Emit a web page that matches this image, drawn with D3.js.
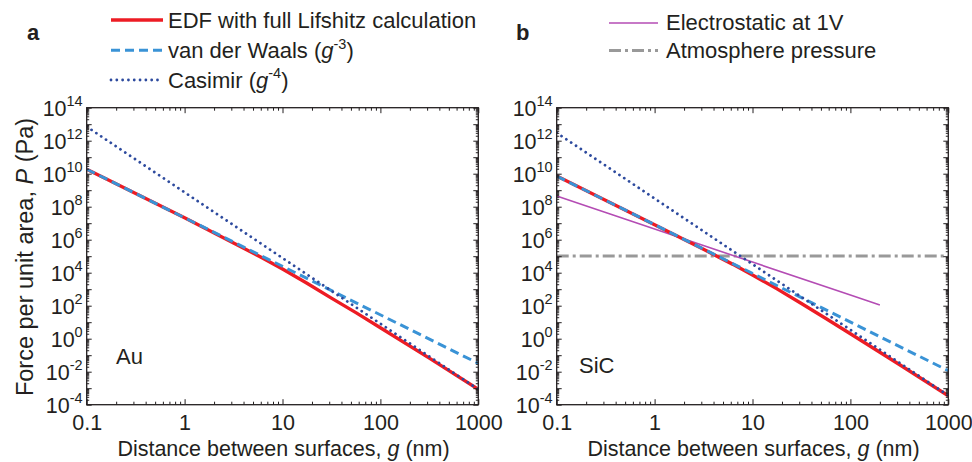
<!DOCTYPE html>
<html>
<head>
<meta charset="utf-8">
<script src="https://cdn.jsdelivr.net/npm/d3@7"></script>
<style>
  html, body { margin: 0; padding: 0; background: #fff; }
  svg { display: block; }
  text { font-family: "Liberation Sans", Arial, Helvetica, sans-serif; fill: #231f20; }
</style>
</head>
<body>
<svg id="chart" width="972" height="462"></svg>
<script>
// ---------------- DATA ----------------
// distances g (nm)
const gFull = [0.1, 1, 3.16, 6.31, 10, 17.8, 31.6, 56.2, 100, 316, 1000];
const gEnds = [0.1, 1000];

// Panel a: Au
const pEdfAu = [1.86e10, 2.14e7, 6.3e5, 7.6e4, 1.66e4, 2.3e3, 288, 38, 4.6, 6.6e-2, 8.5e-4];
const pVdwAu = [1.86e10, 3.2e-2];
const pCasAu = [7.1e12, 8.5e-4];

// Panel b: SiC
const pEdfSiC = [7.2e9, 8.1e6, 2.6e5, 3.2e4, 7.2e3, 1.05e3, 135, 16.6, 2.0, 2.75e-2, 3.5e-4];
const pVdwSiC = [7.2e9, 1.15e-2];
const pCasSiC = [3.0e12, 3.6e-4];
const gElec = [0.1, 1, 10, 100, 200];
const pElec = [4.4e8, 4.4e6, 4.4e4, 440, 110];
const pAtm = [1.013e5, 1.013e5];

// axes
const xDomain = [0.1, 1000];
const yDomain = [1e-4, 1e14];
const xTickLabels = ["0.1", "1", "10", "100", "1000"];
const yTickExponents = [14, 12, 10, 8, 6, 4, 2, 0, -2, -4];

// legend
const legendA = ["EDF with full Lifshitz calculation", "van der Waals", "Casimir"];
const legendB = ["Electrostatic at 1V", "Atmosphere pressure"];

// ---------------- STYLES ----------------
const sty = {
  edf:  {stroke: "#ed1c24", width: 3.4, dash: null, cap: "butt"},
  vdw:  {stroke: "#3a93d6", width: 3.0, dash: "9,5", cap: "butt"},
  cas:  {stroke: "#2d4a9e", width: 2.8, dash: "0.01,5.8", cap: "round"},
  elec: {stroke: "#b44cb4", width: 1.6, dash: null, cap: "butt"},
  atm:  {stroke: "#999999", width: 3.0, dash: "12,4,3,4", cap: "butt"}
};

const svg = d3.select("#chart");
const ink = "#231f20";
const FS = 21.5;     // tick labels / axis titles
const FS_LEG = 22;   // legend
const FS_SUP = 14.5;

const panels = [
  {key: "a", left: 86.7, right: 478.3, label: "a", labelX: 27, mat: "Au", matX: 116, matY: 364,
   series: [
     {g: gFull, p: pEdfAu, s: sty.edf},
     {g: gEnds, p: pVdwAu, s: sty.vdw},
     {g: gEnds, p: pCasAu, s: sty.cas}
   ]},
  {key: "b", left: 556.7, right: 948.3, label: "b", labelX: 516, mat: "SiC", matX: 579, matY: 372.7,
   series: [
     {g: gEnds, p: pAtm, s: sty.atm},
     {g: gElec, p: pElec, s: sty.elec},
     {g: gFull, p: pEdfSiC, s: sty.edf},
     {g: gEnds, p: pVdwSiC, s: sty.vdw},
     {g: gEnds, p: pCasSiC, s: sty.cas}
   ]}
];
const plotTop = 107.7, plotBottom = 404.7;

function minorTicks(lo, hi) {
  const out = [];
  for (let e = Math.round(Math.log10(lo)); e < Math.round(Math.log10(hi)); e++) {
    for (let k = 2; k <= 9; k++) out.push(k * Math.pow(10, e));
  }
  return out;
}
function decades(lo, hi) {
  const out = [];
  for (let e = Math.round(Math.log10(lo)); e <= Math.round(Math.log10(hi)); e++) out.push(Math.pow(10, e));
  return out;
}

panels.forEach((P) => {
  const x = d3.scaleLog().domain(xDomain).range([P.left, P.right]);
  const y = d3.scaleLog().domain(yDomain).range([plotBottom, plotTop]);
  const W = P.right - P.left, H = plotBottom - plotTop;
  const g = svg.append("g");

  svg.append("clipPath").attr("id", "clip" + P.key)
    .append("rect").attr("x", P.left).attr("y", plotTop).attr("width", W).attr("height", H);

  const line = d3.line().x((d) => x(d[0])).y((d) => y(d[1]));
  const lg = g.append("g").attr("clip-path", `url(#clip${P.key})`);
  P.series.forEach(sr => {
    const pts = sr.g.map((v, i) => [v, sr.p[i]]);
    lg.append("path").attr("d", line(pts))
      .attr("fill", "none").attr("stroke", sr.s.stroke).attr("stroke-width", sr.s.width)
      .attr("stroke-dasharray", sr.s.dash).attr("stroke-linecap", sr.s.cap)
      .attr("stroke-linejoin", "round");
  });

  const xMaj = decades(xDomain[0], xDomain[1]);
  const xMin = minorTicks(xDomain[0], xDomain[1]);
  const yMaj = decades(yDomain[0], yDomain[1]);
  const yMin = minorTicks(yDomain[0], yDomain[1]);

  function styleAxis(sel) {
    sel.select(".domain").remove();
    sel.selectAll(".tick line").attr("stroke", ink).attr("stroke-width", 1);
  }

  const bAx = g.append("g").attr("transform", `translate(0,${plotBottom})`)
    .call(d3.axisBottom(x).tickValues(xMaj).tickSizeInner(-5.5).tickSizeOuter(0).tickPadding(10)
      .tickFormat((d, i) => xTickLabels[i]));
  styleAxis(bAx);
  bAx.selectAll("text").attr("font-size", FS).attr("fill", ink)
    .attr("font-family", '"Liberation Sans", Arial, sans-serif');
  styleAxis(g.append("g").attr("transform", `translate(0,${plotBottom})`)
    .call(d3.axisBottom(x).tickValues(xMin).tickSizeInner(-3).tickSizeOuter(0).tickFormat("")));
  styleAxis(g.append("g").attr("transform", `translate(0,${plotTop})`)
    .call(d3.axisTop(x).tickValues(xMaj).tickSizeInner(-5.5).tickSizeOuter(0).tickFormat("")));
  styleAxis(g.append("g").attr("transform", `translate(0,${plotTop})`)
    .call(d3.axisTop(x).tickValues(xMin).tickSizeInner(-3).tickSizeOuter(0).tickFormat("")));

  styleAxis(g.append("g").attr("transform", `translate(${P.left},0)`)
    .call(d3.axisLeft(y).tickValues(yMaj).tickSizeInner(-5).tickSizeOuter(0).tickFormat("")));
  styleAxis(g.append("g").attr("transform", `translate(${P.left},0)`)
    .call(d3.axisLeft(y).tickValues(yMin).tickSizeInner(-2.5).tickSizeOuter(0).tickFormat("")));
  styleAxis(g.append("g").attr("transform", `translate(${P.right},0)`)
    .call(d3.axisRight(y).tickValues(yMaj).tickSizeInner(-5).tickSizeOuter(0).tickFormat("")));
  styleAxis(g.append("g").attr("transform", `translate(${P.right},0)`)
    .call(d3.axisRight(y).tickValues(yMin).tickSizeInner(-2.5).tickSizeOuter(0).tickFormat("")));

  yTickExponents.forEach(e => {
    const t = g.append("text").attr("x", P.left - 4).attr("y", y(Math.pow(10, e)) + 8)
      .attr("text-anchor", "end").attr("font-size", FS);
    t.append("tspan").text("10");
    t.append("tspan").attr("font-size", FS_SUP).attr("dy", -9.5).text(String(e));
  });

  g.append("rect").attr("x", P.left).attr("y", plotTop).attr("width", W).attr("height", H)
    .attr("fill", "none").attr("stroke", ink).attr("stroke-width", 1.3);

  const xt = g.append("text").attr("x", (P.left + P.right) / 2 + 1).attr("y", 456)
    .attr("text-anchor", "middle").attr("font-size", FS);
  xt.append("tspan").text("Distance between surfaces, ");
  xt.append("tspan").attr("font-style", "italic").text("g");
  xt.append("tspan").text(" (nm)");

  g.append("text").attr("x", P.labelX).attr("y", 40).attr("font-size", 22).attr("font-weight", "bold").text(P.label);
  g.append("text").attr("x", P.matX).attr("y", P.matY).attr("font-size", FS_LEG).text(P.mat);
});

const yt = svg.append("text").attr("transform", "translate(33,257) rotate(-90)")
  .attr("text-anchor", "middle").attr("font-size", 23.5);
yt.append("tspan").text("Force per unit area, ");
yt.append("tspan").attr("font-style", "italic").text("P");
yt.append("tspan").text(" (Pa)");

// ---------------- LEGENDS ----------------
function legendLine(x1, x2, yy, s) {
  svg.append("line").attr("x1", x1).attr("x2", x2).attr("y1", yy).attr("y2", yy)
    .attr("stroke", s.stroke).attr("stroke-width", s.width).attr("stroke-dasharray", s.dash)
    .attr("stroke-linecap", s.cap);
}
const la = {x1: 111, x2: 163, tx: 168, ys: [20, 50.3, 80], tys: [28.3, 58.3, 87.7]};
const laStyles = [sty.edf, sty.vdw, sty.cas];
const laExp = [null, "-3", "-4"];
legendA.forEach((name, i) => {
  legendLine(la.x1, la.x2, la.ys[i], laStyles[i]);
  const t = svg.append("text").attr("x", la.tx).attr("y", la.tys[i]).attr("font-size", FS_LEG);
  if (laExp[i] === null) {
    t.text(name);
  } else {
    t.append("tspan").text(name + " (");
    t.append("tspan").attr("font-style", "italic").text("g");
    t.append("tspan").attr("font-size", FS_SUP).attr("dy", -9.5).text(laExp[i]);
    t.append("tspan").attr("dy", 9.5).text(")");
  }
});
const lb = {x1: 609, x2: 658, tx: 666, ys: [23, 50.5], tys: [30, 58.3]};
const lbStyles = [sty.elec, sty.atm];
legendB.forEach((name, i) => {
  legendLine(lb.x1, lb.x2, lb.ys[i], lbStyles[i]);
  svg.append("text").attr("x", lb.tx).attr("y", lb.tys[i]).attr("font-size", FS_LEG).text(name);
});
</script>
</body>
</html>
